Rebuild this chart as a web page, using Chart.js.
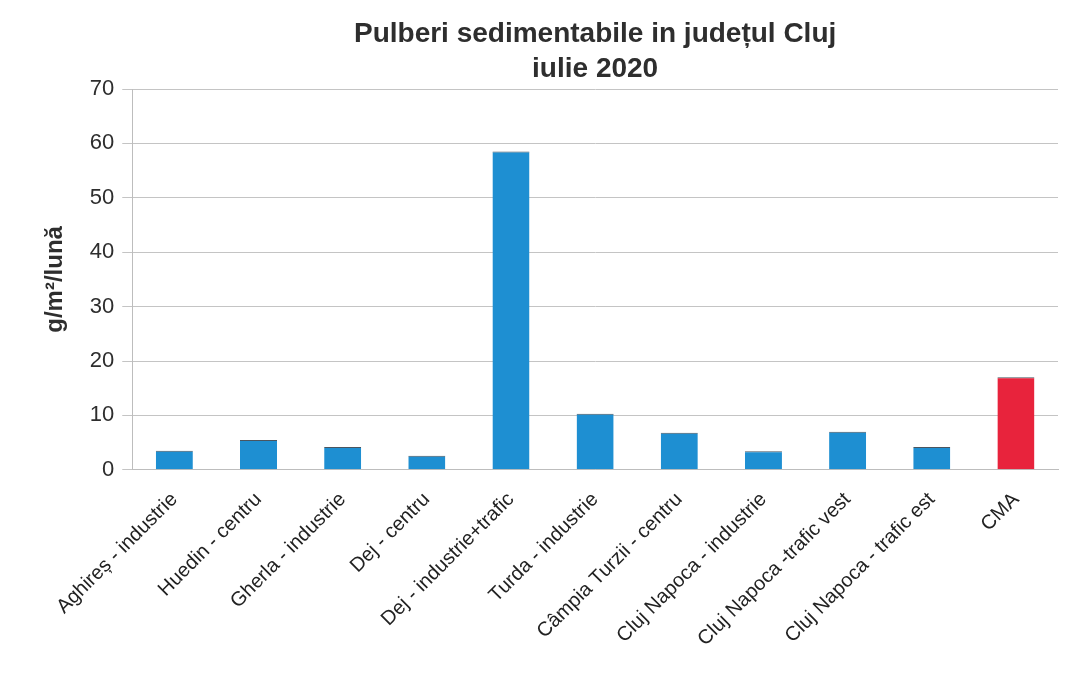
<!DOCTYPE html>
<html>
<head>
<meta charset="utf-8">
<script src="https://cdn.jsdelivr.net/npm/chart.js@4/dist/chart.umd.min.js"></script>
<style>
  body { margin: 0; background: #fff; }
  #wrap { width: 1066px; height: 683px; }
</style>
</head>
<body>
<div id="wrap"><canvas id="myChart" width="1066" height="683"></canvas></div>
<script>
"use strict";
// statii de monitorizare (axa x)
var statii = ["Aghireș - industrie", "Huedin - centru", "Gherla - industrie", "Dej - centru",
	"Dej - industrie+trafic", "Turda - industrie", "Câmpia Turzii - centru",
	"Cluj Napoca - industrie", "Cluj Napoca -trafic vest", "Cluj Napoca - trafic est", "CMA"];
// valori, g/m2/luna
var valori = [3.5, 5.5, 4.2, 2.6, 58.5, 10.3, 6.8, 3.4, 7.0, 4.2, 17];
var yTicks = [0, 10, 20, 30, 40, 50, 60, 70];

var culori = statii.map(function (s) {
	return s === "CMA" ? "#e8233c" : "#1e8fd2";
});

function buildChart() {
	var ctx = document.getElementById("myChart");
	new Chart(ctx, {
		type: "bar",
		data: {
			labels: statii,
			datasets: [{
				data: valori,
				backgroundColor: culori,
				borderColor: "#4a5560",
				borderWidth: { top: 1, left: 0, right: 0, bottom: 0 },
				barPercentage: 0.44,
				categoryPercentage: 1
			}]
		},
		options: {
			responsive: false,
			animation: false,
			layout: { padding: { left: 37, right: 8, top: 8, bottom: 22 } },
			plugins: {
				legend: { display: false },
				tooltip: { enabled: false },
				title: {
					display: true,
					fullSize: false,
					text: ["Pulberi sedimentabile in județul Cluj", "iulie 2020"],
					color: "#2e2e2e",
					font: { family: "Liberation Sans", size: 28, weight: "bold", lineHeight: 1.25 },
					padding: { top: 9, bottom: 2 }
				}
			},
			scales: {
				x: {
					grid: { display: false, drawTicks: true },
					border: { color: "#bdbdbd" },
					ticks: {
						color: "#222",
						maxRotation: 45,
						minRotation: 45,
						autoSkip: false,
						padding: 10,
						font: { family: "Liberation Sans", size: 20 }
					}
				},
				y: {
					min: 0,
					max: 70,
					afterBuildTicks: function (axis) {
						axis.ticks = yTicks.map(function (v) { return { value: v }; });
					},
					grid: { color: "#c4c4c4", tickLength: 10 },
					border: { color: "#bdbdbd" },
					ticks: {
						color: "#2e2e2e",
						padding: 8,
						font: { family: "Liberation Sans", size: 22 }
					},
					title: {
						display: true,
						text: "g/m²/lună",
						color: "#2e2e2e",
						font: { family: "Liberation Sans", size: 24, weight: "bold" },
						padding: { bottom: 12 }
					}
				}
			}
		}
	});
}

buildChart();
</script>
</body>
</html>
